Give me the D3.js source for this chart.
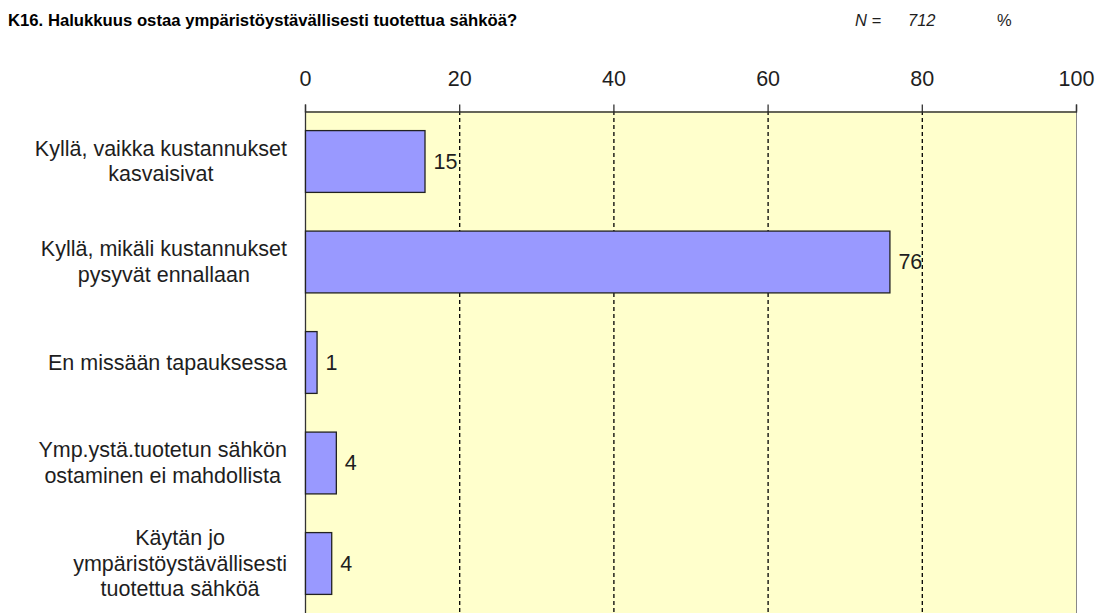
<!DOCTYPE html>
<html><head><meta charset="utf-8">
<script src="https://cdn.jsdelivr.net/npm/d3@7"></script>
<style>
body{margin:0;background:#fff;}
svg{display:block;font-family:Arial,"Liberation Sans",sans-serif;}
</style></head>
<body><svg id="c" width="1101" height="613"></svg>
<script>
const categories = [
  ["Kyllä, vaikka kustannukset","kasvaisivat"],
  ["Kyllä, mikäli kustannukset","pysyvät ennallaan"],
  ["En missään tapauksessa"],
  ["Ymp.ystä.tuotetun sähkön","ostaminen ei mahdollista"],
  ["Käytän jo","ympäristöystävällisesti","tuotettua sähköä"]
];
const values = [15.5, 75.8, 1.5, 4.0, 3.4];
const valueLabels = ["15","76","1","4","4"];
const tickValues = [0,20,40,60,80,100];
const title = "K16. Halukkuus ostaa ympäristöystävällisesti tuotettua sähköä?";

const svg = d3.select("#c");
const L = 305, R = 1076, T = 111, B = 613;
const FS = 21.5;
const TXT = "#1e1e1e";
const x = d3.scaleLinear().domain([0,100]).range([L,R]);
const y = d3.scaleBand().domain(d3.range(categories.length)).range([T, T + 5*100.4]).paddingInner(0.385).paddingOuter(0.19);

svg.append("rect").attr("x",L).attr("y",T).attr("width",R-L).attr("height",B-T+5).attr("fill","#FFFFCC");

// grid
svg.append("g").selectAll("line").data(tickValues.filter(d=>d>0&&d<100)).join("line")
  .attr("x1",d=>x(d)+0.5).attr("x2",d=>x(d)+0.5).attr("y1",T).attr("y2",B+5)
  .attr("stroke","#000").attr("stroke-width",1.3).attr("stroke-dasharray","4,3");

// right border
svg.append("line").attr("x1",R+0.5).attr("x2",R+0.5).attr("y1",T).attr("y2",B+5).attr("stroke","#888").attr("stroke-width",1);

// top axis
const ax = svg.append("g").attr("transform",`translate(0,${T+0.5})`)
  .call(d3.axisTop(x).tickValues(tickValues).tickSize(7).tickPadding(19).tickFormat(d3.format("d")));
ax.select(".domain").attr("stroke","#333").attr("stroke-width",1.3);
ax.selectAll(".tick line").attr("stroke","#333").attr("stroke-width",1.3);
ax.selectAll("text").attr("font-size",FS).attr("fill",TXT).attr("font-family","Arial,'Liberation Sans',sans-serif");

// left axis line
svg.append("line").attr("x1",L+0.5).attr("x2",L+0.5).attr("y1",T).attr("y2",B+5).attr("stroke","#333").attr("stroke-width",1.3);

// bars
svg.append("g").selectAll("rect").data(values).join("rect")
  .attr("x",x(0)+0.5).attr("y",(d,i)=>y(i)+0.5)
  .attr("width",d=>x(d)-x(0)).attr("height",y.bandwidth())
  .attr("fill","#9999FF").attr("stroke","#222").attr("stroke-width",1.3);

// value labels
svg.append("g").selectAll("text").data(values).join("text")
  .attr("x",d=>x(d)+9).attr("y",(d,i)=>y(i)+y.bandwidth()/2)
  .attr("dy","0.35em").attr("font-size",FS).attr("fill",TXT)
  .text((d,i)=>valueLabels[i]);

// category labels (block centred, right edge near axis)
const lh = 25.5;
const cg = svg.append("g");
categories.forEach((lines,i)=>{
  const cy = y(i)+y.bandwidth()/2;
  const t = cg.append("text").attr("text-anchor","middle").attr("font-size",FS).attr("fill",TXT);
  const spans = lines.map((ln,j)=> t.append("tspan").attr("y",cy + (j-(lines.length-1)/2)*lh).attr("dy","0.35em").text(ln));
  const maxW = d3.max(spans, s=>s.node().getComputedTextLength());
  spans.forEach(s=>s.attr("x", 287 - maxW/2));
});

// title
svg.append("text").attr("x",8).attr("y",26).attr("font-size",16.7).attr("font-weight","bold").attr("fill","#000").text(title);
svg.append("text").attr("x",855).attr("y",26).attr("font-size",16.5).attr("font-style","italic").attr("fill",TXT).text("N =");
svg.append("text").attr("x",908).attr("y",26).attr("font-size",16.5).attr("font-style","italic").attr("fill",TXT).text("712");
svg.append("text").attr("x",997).attr("y",26).attr("font-size",16.5).attr("fill",TXT).text("%");
</script>
</body></html>
